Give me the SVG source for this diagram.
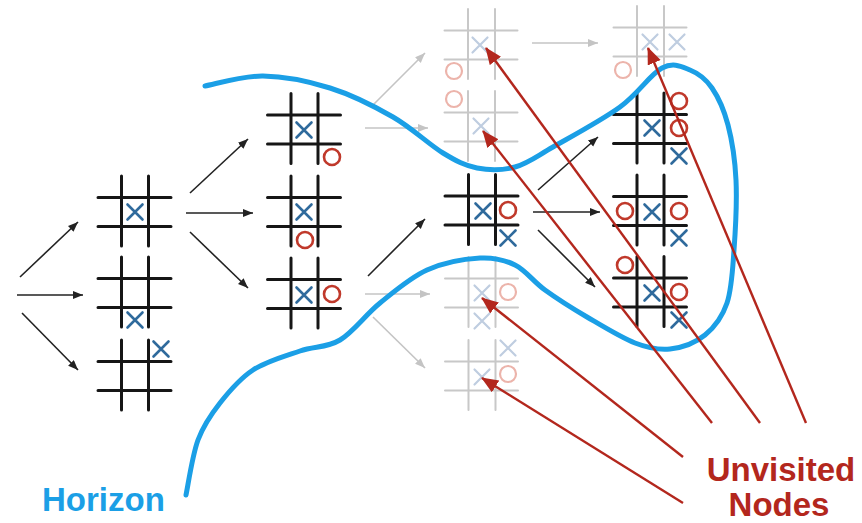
<svg xmlns="http://www.w3.org/2000/svg" xmlns:xlink="http://www.w3.org/1999/xlink" width="862" height="523" viewBox="0 0 862 523">
<style>
.grid{fill:none;stroke:#161616;stroke-width:3;stroke-linecap:round}
.gridf{fill:none;stroke:#c8c8c8;stroke-width:2;stroke-linecap:round}
.x{fill:none;stroke:#2f6a9c;stroke-width:2.6;stroke-linecap:round}
.xf{fill:none;stroke:#bfcde0;stroke-width:2.2;stroke-linecap:round}
.o{fill:none;stroke:#c0392b;stroke-width:2.6}
.of{fill:none;stroke:#ecb4ab;stroke-width:2.2}
.arr{fill:none;stroke:#222;stroke-width:1.6;marker-end:url(#ah)}
.arrf{fill:none;stroke:#c4c4c4;stroke-width:1.6;marker-end:url(#ahf)}
.red{fill:none;stroke:#b3271d;stroke-width:2.4;marker-end:url(#ahr)}
.hz{fill:none;stroke:#1b9fe6;stroke-width:5;stroke-linecap:round;stroke-linejoin:round}
.lbl{font-family:"Liberation Sans",Arial,Helvetica,sans-serif;font-weight:bold;font-size:33px}
</style>
<defs>
<path id="grid" d="M-13.5,-36V34M13.5,-36V34M-37,-14.5H36M-37,14.5H36"/>
<path id="mx" d="M-7.5,-7.5L7.5,7.5M7.5,-7.5L-7.5,7.5"/>
<circle id="mo" cx="0" cy="0" r="8"/>
<marker id="ah" markerUnits="userSpaceOnUse" markerWidth="11" markerHeight="9" refX="10" refY="4" orient="auto"><path d="M0,0L10,4L0,8z" fill="#222"/></marker>
<marker id="ahf" markerUnits="userSpaceOnUse" markerWidth="11" markerHeight="9" refX="10" refY="4" orient="auto"><path d="M0,0L10,4L0,8z" fill="#c4c4c4"/></marker>
<marker id="ahr" markerUnits="userSpaceOnUse" markerWidth="18" markerHeight="15" refX="16" refY="7" orient="auto"><path d="M0,0L17,7L0,14z" fill="#b3271d"/></marker>
</defs>
<rect width="862" height="523" fill="#fff"/>

<g id="board-A"><use xlink:href="#grid" x="135" y="212" class="grid"/><use xlink:href="#mx" x="135" y="212" class="x"/></g>
<g id="board-B"><use xlink:href="#grid" x="135" y="293" class="grid"/><use xlink:href="#mx" x="135" y="320" class="x"/></g>
<g id="board-C"><use xlink:href="#grid" x="135" y="376" class="grid"/><use xlink:href="#mx" x="161" y="349" class="x"/></g>

<g id="board-D"><use xlink:href="#grid" x="304.5" y="129.5" class="grid"/><use xlink:href="#mx" x="304" y="130" class="x"/><use xlink:href="#mo" x="332" y="157" class="o"/></g>
<g id="board-E"><use xlink:href="#grid" x="304.5" y="212" class="grid"/><use xlink:href="#mx" x="304" y="212" class="x"/><use xlink:href="#mo" x="305" y="240" class="o"/></g>
<g id="board-F"><use xlink:href="#grid" x="304.5" y="294" class="grid"/><use xlink:href="#mx" x="304" y="295" class="x"/><use xlink:href="#mo" x="332" y="294" class="o"/></g>

<g id="board-G"><use xlink:href="#grid" x="481.5" y="45" class="gridf"/><use xlink:href="#mx" x="480" y="45" class="xf"/><use xlink:href="#mo" x="454" y="71" class="of"/></g>
<g id="board-H"><use xlink:href="#grid" x="481.5" y="127" class="gridf"/><use xlink:href="#mx" x="481" y="126" class="xf"/><use xlink:href="#mo" x="454" y="99" class="of"/></g>
<g id="board-I"><use xlink:href="#grid" x="482" y="210.5" class="grid"/><use xlink:href="#mx" x="483" y="211" class="x"/><use xlink:href="#mo" x="508" y="210" class="o"/><use xlink:href="#mx" x="508" y="238" class="x"/></g>
<g id="board-J"><use xlink:href="#grid" x="482" y="293" class="gridf"/><use xlink:href="#mx" x="482" y="293" class="xf"/><use xlink:href="#mo" x="508" y="292" class="of"/><use xlink:href="#mx" x="482" y="321" class="xf"/></g>
<g id="board-K"><use xlink:href="#grid" x="482" y="376" class="gridf"/><use xlink:href="#mx" x="508" y="348" class="xf"/><use xlink:href="#mx" x="482" y="377" class="xf"/><use xlink:href="#mo" x="508" y="374" class="of"/></g>

<g id="board-L"><use xlink:href="#grid" x="650.5" y="42" class="gridf"/><use xlink:href="#mx" x="650" y="42" class="xf"/><use xlink:href="#mx" x="677" y="42" class="xf"/><use xlink:href="#mo" x="623" y="70" class="of"/></g>
<g id="board-M"><use xlink:href="#grid" x="650.5" y="129" class="grid"/><use xlink:href="#mx" x="652" y="128" class="x"/><use xlink:href="#mo" x="679" y="101" class="o"/><use xlink:href="#mo" x="679" y="128" class="o"/><use xlink:href="#mx" x="679" y="156" class="x"/></g>
<g id="board-N"><use xlink:href="#grid" x="650.5" y="211" class="grid"/><use xlink:href="#mo" x="625" y="211" class="o"/><use xlink:href="#mx" x="652" y="212" class="x"/><use xlink:href="#mo" x="679" y="211" class="o"/><use xlink:href="#mx" x="679" y="238" class="x"/></g>
<g id="board-O"><use xlink:href="#grid" x="650.5" y="292.5" class="grid"/><use xlink:href="#mo" x="625" y="265" class="o"/><use xlink:href="#mx" x="652" y="293" class="x"/><use xlink:href="#mo" x="679" y="292" class="o"/><use xlink:href="#mx" x="679" y="320" class="x"/></g>

<g id="connectors">
<line class="arr" x1="20" y1="277" x2="78" y2="222"/>
<line class="arr" x1="17" y1="295" x2="83" y2="295"/>
<line class="arr" x1="22" y1="313" x2="78" y2="370"/>
<line class="arr" x1="190" y1="193" x2="248" y2="139"/>
<line class="arr" x1="186" y1="213" x2="253" y2="213"/>
<line class="arr" x1="190" y1="232" x2="248" y2="288"/>
<line class="arrf" x1="373" y1="105" x2="425" y2="53"/>
<line class="arrf" x1="365" y1="128" x2="428" y2="128"/>
<line class="arr" x1="368" y1="276" x2="425" y2="219"/>
<line class="arrf" x1="365" y1="294" x2="430" y2="294"/>
<line class="arrf" x1="373" y1="317" x2="425" y2="368"/>
<line class="arrf" x1="532" y1="43" x2="598" y2="43"/>
<line class="arr" x1="538" y1="190" x2="598" y2="137"/>
<line class="arr" x1="533" y1="212" x2="600" y2="212"/>
<line class="arr" x1="538" y1="230" x2="595" y2="287"/>
</g>

<g id="horizon">
<path class="hz" d="M205,86 C214.7,84.3 242.2,75.7 263,76 C283.8,76.3 308.3,81.2 330,88 C351.7,94.8 374.2,106.2 393,117 C411.8,127.8 429,144.5 443,153 C457,161.5 465,165.7 477,168 C489,170.3 502.3,170.5 515,167 C527.7,163.5 535.5,157 553,147 C570.5,137 601.8,120.2 620,107 C638.2,93.8 650.3,74.2 662,68 C673.7,61.8 681.7,66.7 690,70 C698.3,73.3 705.7,78.8 712,88 C718.3,97.2 724,109.7 728,125 C732,140.3 735,159.2 736,180 C737,200.8 735.5,229.5 734,250 C732.5,270.5 731.8,288.8 727,303 C722.2,317.2 714.5,327.3 705,335 C695.5,342.7 681.7,347.7 670,349 C658.3,350.3 648.8,348.3 635,343 C621.2,337.7 602,325.8 587,317 C572,308.2 557,298.7 545,290 C533,281.3 525.8,270.3 515,265 C504.2,259.7 494.7,257.2 480,258 C465.3,258.8 443.7,262.5 427,270 C410.3,277.5 394.5,291.3 380,303 C365.5,314.7 353.3,332 340,340 C326.7,348 314.5,346 300,351 C285.5,356 266.3,361.3 253,370 C239.7,378.7 229.2,391.3 220,403 C210.8,414.7 203.7,424.7 198,440 C192.3,455.3 188,485.8 186,495"/>
</g>

<g id="unvisited-pointers">
<line class="red" x1="806" y1="423" x2="648" y2="48"/>
<line class="red" x1="760" y1="423" x2="486" y2="48"/>
<line class="red" x1="712" y1="423" x2="483" y2="131"/>
<line class="red" x1="683" y1="457" x2="482" y2="298"/>
<line class="red" x1="683" y1="503" x2="482" y2="378"/>
</g>

<g id="labels">
<text class="lbl" x="42" y="511" fill="#1b9fe6">Horizon</text>
<text class="lbl" x="781" y="481" fill="#b3271d" text-anchor="middle">Unvisited</text>
<text class="lbl" x="779" y="516" fill="#b3271d" text-anchor="middle">Nodes</text>
</g>
</svg>
